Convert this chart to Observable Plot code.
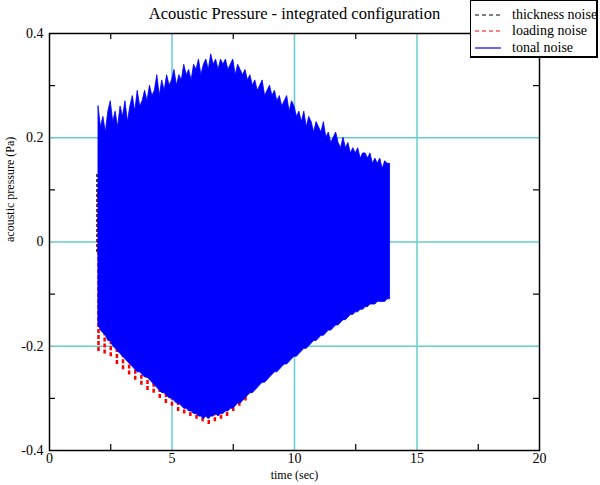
<!DOCTYPE html>
<html><head><meta charset="utf-8">
<script src="https://cdn.jsdelivr.net/npm/d3@7"></script>
<script src="https://cdn.jsdelivr.net/npm/@observablehq/plot@0.6"></script>
<style>
body{margin:0;background:#fff;}
#wrap{position:relative;width:600px;height:485px;font-family:"Liberation Serif","Times New Roman",serif;}
#wrap svg, #wrap svg text{font-family:"Liberation Serif","Times New Roman",serif !important;}
#legend{position:absolute;left:470px;top:0;width:125px;height:55px;background:#fff;border:1px solid #000;border-right-width:2px;border-bottom-width:2px;font-size:14px;color:#000;}
.row{position:absolute;left:0;height:16px;line-height:16px;white-space:nowrap;}
.row svg{position:absolute;left:2px;top:0;}
.row span{position:absolute;left:41px;top:0;}
</style></head><body><div id="wrap"></div>
<script>
const titleText = "Acoustic Pressure - integrated configuration";
const xLabel = "time (sec)";
const yLabel = "acoustic pressure (Pa)";
const xTicks = [0, 5, 10, 15, 20];
const yTicks = [-0.4, -0.2, 0, 0.2, 0.4];
const xMinor = [2.5, 7.5, 12.5, 17.5];
const yMinor = [-0.3, -0.1, 0.1, 0.3];
const gridX = [5, 10, 15];
const gridY = [-0.2, 0, 0.2];
const seriesNames = ["thickness noise", "loading noise", "tonal noise"];
const seriesColors = ["#000000", "#ff0000", "#0000ff"];

const tonalT = [
  2.0,2.1,2.2,2.3,2.4,2.5,2.6,2.7,2.8,2.9,
  3.0,3.1,3.2,3.3,3.4,3.5,3.6,3.7,3.8,3.9,
  4.0,4.1,4.2,4.3,4.4,4.5,4.6,4.7,4.8,4.9,
  5.0,5.1,5.2,5.3,5.4,5.5,5.6,5.7,5.8,5.9,
  6.0,6.1,6.2,6.3,6.4,6.5,6.6,6.7,6.8,6.9,
  7.0,7.1,7.2,7.3,7.4,7.5,7.6,7.7,7.8,7.9,
  8.0,8.1,8.2,8.3,8.4,8.5,8.6,8.7,8.8,8.9,
  9.0,9.1,9.2,9.3,9.4,9.5,9.6,9.7,9.8,9.9,
  10.0,10.1,10.2,10.3,10.4,10.5,10.6,10.7,10.8,10.9,
  11.0,11.1,11.2,11.3,11.4,11.5,11.6,11.7,11.8,11.9,
  12.0,12.1,12.2,12.3,12.4,12.5,12.6,12.7,12.8,12.9,
  13.0,13.1,13.2,13.3,13.4,13.5,13.6,13.7,13.8,13.9
];
const tonalHi = [
  0.26,0.22,0.24,0.21,0.25,0.27,0.23,0.25,0.22,0.26,
  0.24,0.27,0.23,0.26,0.28,0.25,0.29,0.26,0.27,0.29,
  0.27,0.30,0.28,0.29,0.32,0.28,0.31,0.29,0.32,0.30,
  0.31,0.33,0.30,0.32,0.31,0.34,0.32,0.33,0.31,0.34,
  0.33,0.35,0.32,0.34,0.35,0.33,0.36,0.34,0.35,0.33,
  0.35,0.34,0.35,0.33,0.34,0.35,0.32,0.34,0.33,0.32,
  0.33,0.31,0.32,0.30,0.31,0.29,0.30,0.31,0.28,0.29,
  0.30,0.28,0.29,0.27,0.28,0.26,0.27,0.28,0.25,0.27,
  0.26,0.24,0.25,0.23,0.25,0.22,0.24,0.23,0.21,0.23,
  0.22,0.21,0.23,0.20,0.21,0.19,0.20,0.21,0.19,0.18,
  0.20,0.18,0.19,0.17,0.18,0.17,0.18,0.16,0.17,0.17,
  0.16,0.17,0.15,0.16,0.15,0.16,0.14,0.155,0.15,0.15
];
const tonalLo = [
  -0.16,-0.17,-0.175,-0.18,-0.19,-0.19,-0.20,-0.205,-0.21,-0.215,
  -0.22,-0.225,-0.23,-0.235,-0.24,-0.245,-0.25,-0.25,-0.255,-0.26,
  -0.26,-0.265,-0.27,-0.275,-0.28,-0.285,-0.29,-0.29,-0.295,-0.30,
  -0.30,-0.305,-0.31,-0.31,-0.315,-0.32,-0.32,-0.325,-0.325,-0.33,
  -0.33,-0.335,-0.335,-0.34,-0.335,-0.34,-0.335,-0.335,-0.33,-0.335,
  -0.33,-0.33,-0.325,-0.325,-0.32,-0.32,-0.315,-0.31,-0.31,-0.305,
  -0.30,-0.295,-0.29,-0.29,-0.285,-0.28,-0.275,-0.27,-0.27,-0.265,
  -0.26,-0.255,-0.25,-0.25,-0.245,-0.24,-0.235,-0.235,-0.23,-0.225,
  -0.22,-0.22,-0.215,-0.21,-0.205,-0.205,-0.20,-0.195,-0.19,-0.19,
  -0.185,-0.18,-0.18,-0.175,-0.17,-0.17,-0.165,-0.16,-0.16,-0.155,
  -0.15,-0.15,-0.145,-0.14,-0.14,-0.135,-0.135,-0.13,-0.13,-0.125,
  -0.125,-0.12,-0.12,-0.12,-0.115,-0.115,-0.115,-0.115,-0.11,-0.11
];

// loading noise: lower tips visible below the tonal band
const loadingT = [2.0,2.25,2.5,2.75,3.0,3.25,3.5,3.75,4.0,4.25,4.5,4.75,5.0,5.25,5.5,5.75,6.0,6.25,6.5,6.75,7.0,7.25,7.5,7.75,8.0];
const loadingLo = [-0.21,-0.215,-0.22,-0.235,-0.245,-0.255,-0.265,-0.275,-0.285,-0.29,-0.30,-0.31,-0.315,-0.325,-0.33,-0.335,-0.34,-0.345,-0.35,-0.345,-0.34,-0.335,-0.325,-0.315,-0.305];
const loadingHi = [0.1,0.1,0.1,0.1,0.1,0.1,0.1,0.1,0.1,0.1,0.1,0.1,0.1,0.1,0.1,0.1,0.1,0.1,0.1,0.1,0.1,0.1,0.1,0.1,0.1];

// thickness noise: only its left edge shows
const thicknessT = [1.94];
const thicknessLo = [-0.02];
const thicknessHi = [0.13];

const tonal = tonalT.map((t, i) => ({t, lo: tonalLo[i], hi: tonalHi[i]}));
const loading = loadingT.map((t, i) => ({t, lo: loadingLo[i], hi: loadingHi[i]}));
const thickness = thicknessT.map((t, i) => ({t, lo: thicknessLo[i], hi: thicknessHi[i]}));

const cyan = "#66cccc";
const serif = "Liberation Serif, Times New Roman, serif";
const fmt = d => d === 0 ? "0" : String(d);
const yFmt = d => d === 0 ? "0" : d.toFixed(1);

const W = 600, H = 485, mL = 49, mR = 61, mT = 33, mB = 35;
const frameW = W - mL - mR, frameH = H - mT - mB, tick = 6;

const chart = Plot.plot({
  width: W, height: H,
  marginLeft: mL, marginRight: mR, marginTop: mT, marginBottom: mB,
  x: {domain: [0, 20], label: null},
  y: {domain: [-0.4, 0.4], label: null},
  style: {fontFamily: serif, fontSize: "14px", background: "#fff", color: "#000"},
  marks: [
    Plot.ruleX(gridX, {stroke: cyan, strokeWidth: 1.5}),
    Plot.ruleY(gridY, {stroke: cyan, strokeWidth: 1.5}),
    Plot.ruleX(thickness, {x: "t", y1: "lo", y2: "hi", stroke: seriesColors[0], strokeWidth: 1.5, strokeDasharray: "3,2"}),
    Plot.ruleX(loading, {x: "t", y1: "lo", y2: "hi", stroke: seriesColors[1], strokeWidth: 2.5, strokeDasharray: "4,2"}),
    Plot.areaY(tonal, {x: "t", y1: "lo", y2: "hi", fill: seriesColors[2], stroke: seriesColors[2], strokeWidth: 0.8}),
    // inward minor ticks
    Plot.ruleX(xMinor, {stroke: "#000", strokeWidth: 1.2, insetTop: frameH - tick}),
    Plot.ruleX(xMinor, {stroke: "#000", strokeWidth: 1.2, insetBottom: frameH - tick}),
    Plot.ruleY(yMinor, {stroke: "#000", strokeWidth: 1.2, insetRight: frameW - tick}),
    Plot.ruleY(yMinor, {stroke: "#000", strokeWidth: 1.2, insetLeft: frameW - tick}),
    Plot.frame({stroke: "#000", strokeWidth: 1.5}),
    Plot.axisX({ticks: xTicks, tickSize: 0, tickPadding: 3, tickFormat: fmt, label: null, fontFamily: serif, fontSize: 14}),
    Plot.axisY({ticks: yTicks, tickSize: 0, tickPadding: 6, tickFormat: yFmt, label: null, fontFamily: serif, fontSize: 14}),
    Plot.text([titleText], {text: d => d, frameAnchor: "top", dy: -20, fontSize: 16.5, lineAnchor: "middle", fontFamily: serif}),
    Plot.text([xLabel], {text: d => d, frameAnchor: "bottom", dy: 25, lineAnchor: "middle", fontSize: 12, fontFamily: serif}),
    Plot.text([yLabel], {text: d => d, frameAnchor: "left", dx: -39, rotate: -90, lineAnchor: "middle", fontSize: 12, fontFamily: serif})
  ]
});
const wrap = document.getElementById("wrap");
wrap.appendChild(chart);

const legend = document.createElement("div");
legend.id = "legend";
const rowTops = [6, 22, 39];
seriesNames.forEach((name, i) => {
  const row = document.createElement("div");
  row.className = "row";
  row.style.top = rowTops[i] + "px";
  const dash = i < 2 ? "4,3" : null;
  row.innerHTML = `<svg width="30" height="16"><line x1="2" x2="28" y1="8" y2="8" stroke="${seriesColors[i]}" stroke-width="1.2" ${dash ? `stroke-dasharray="${dash}"` : ""}/></svg><span>${name}</span>`;
  legend.appendChild(row);
});
wrap.appendChild(legend);
</script>
</body></html>
